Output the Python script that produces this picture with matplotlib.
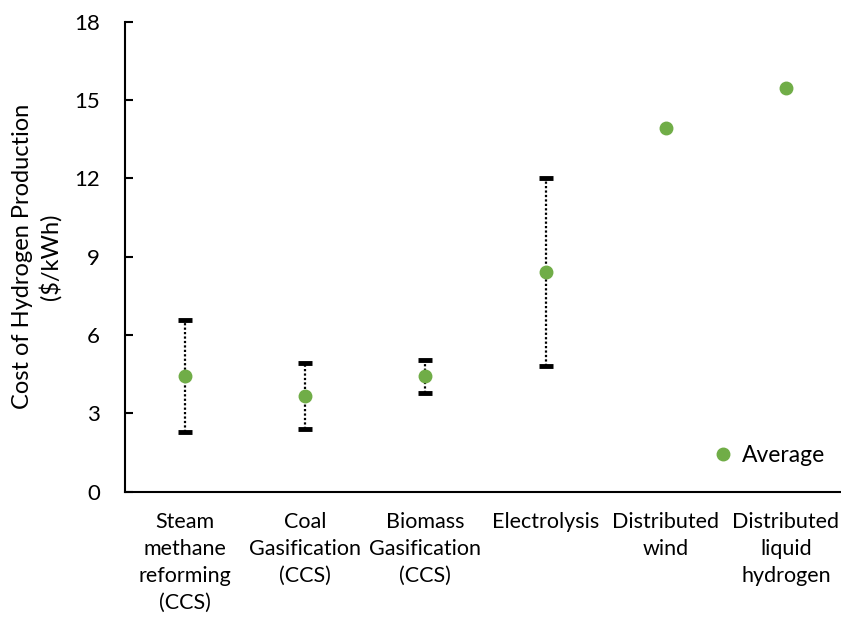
import matplotlib
matplotlib.use("Agg")
import matplotlib.pyplot as plt

categories = ["Steam\nmethane\nreforming\n(CCS)", "Coal\nGasification\n(CCS)",
              "Biomass\nGasification\n(CCS)", "Electrolysis", "Distributed\nwind",
              "Distributed\nliquid\nhydrogen"]
avg = [4.43, 3.65, 4.43, 8.41, 13.93, 15.45]
low = [2.27, 2.38, 3.79, 4.82, None, None]
high = [6.57, 4.94, 5.05, 12.0, None, None]
yticks = [0, 3, 6, 9, 12, 15, 18]

plt.rcParams['font.family'] = ['Lato', 'DejaVu Sans']
fig = plt.figure(figsize=(8.41, 6.24), dpi=100)
ax = fig.add_axes([125/841, 132.5/624, (846-125)/841, (491.5-21.7)/624])

green = "#70AD47"
for i, (a, lo, hi) in enumerate(zip(avg, low, high)):
    if lo is not None:
        ax.plot([i, i], [lo, hi], color="black", linestyle=(0, (1, 1)), lw=1.6, zorder=2)
        ax.plot([i], [lo], marker="_", color="black", markersize=10, mew=3.5, zorder=3)
        ax.plot([i], [hi], marker="_", color="black", markersize=10, mew=3.5, zorder=3)
ax.plot(range(len(avg)), avg, linestyle="none", marker="o", color=green,
        markersize=9, zorder=4, label="Average")

ax.set_xlim(-0.5, 5.5)
ax.set_ylim(0, 18)
ax.set_yticks(yticks)
ax.set_yticklabels([str(v) for v in yticks], fontsize=16)
ax.set_xticks(range(len(categories)))
ax.set_xticklabels(categories, fontsize=15.5, linespacing=1.42)
ax.tick_params(axis="y", direction="in", length=6, width=1.5, pad=18)
ax.tick_params(axis="x", length=0, pad=15)
for s in ["top", "right"]:
    ax.spines[s].set_visible(False)
for s in ["left", "bottom"]:
    ax.spines[s].set_linewidth(1.5)
ax.set_ylabel("Cost of Hydrogen Production\n($/kWh)", fontsize=17, labelpad=9,
              linespacing=1.3)

leg = ax.legend(loc="lower right", bbox_to_anchor=(1.0, 0.01), frameon=False,
                fontsize=16.5, handletextpad=0.35, markerscale=1.0, handlelength=1.0)

fig.savefig("out.png", dpi=100)
